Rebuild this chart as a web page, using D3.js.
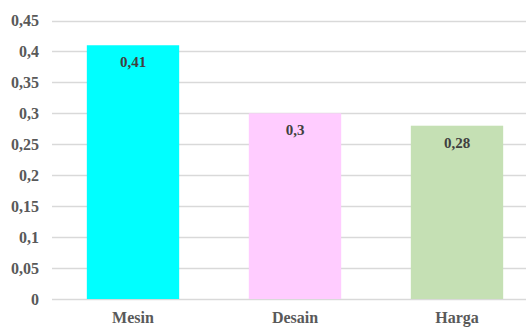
<!DOCTYPE html>
<html>
<head>
<meta charset="utf-8">
<script src="https://cdn.jsdelivr.net/npm/d3@7"></script>
<style>
  body { margin: 0; background: #fff; }
  svg { display: block; }
  svg text { font-family: "Liberation Serif", "Times New Roman", Times, serif; font-weight: bold; }
</style>
</head>
<body>
<div id="chart"></div>
<script>
const categories = ["Mesin", "Desain", "Harga"];
const values = [0.41, 0.3, 0.28];
const colors = ["#00ffff", "#ffccff", "#c5e0b4"];
const yTicks = [0, 0.05, 0.1, 0.15, 0.2, 0.25, 0.3, 0.35, 0.4, 0.45];

const width = 526, height = 327;
const fmt = d => String(d).replace(".", ",");

const x = d3.scaleBand()
    .domain(categories)
    .range([52, 538])
    .paddingInner(0.43)
    .paddingOuter(0.215);

const y = d3.scaleLinear()
    .domain([0, 0.45])
    .range([299, 20.5]);

const svg = d3.select("#chart")
    .append("svg")
    .attr("width", width)
    .attr("height", height);

// gridlines
svg.append("g")
    .selectAll("line")
    .data(yTicks)
    .join("line")
    .attr("x1", 52)
    .attr("x2", width)
    .attr("y1", d => Math.round(y(d)) + 0.5)
    .attr("y2", d => Math.round(y(d)) + 0.5)
    .attr("stroke", "#d9d9d9")
    .attr("stroke-width", 1.5);

// y tick labels
svg.append("g")
    .attr("font-size", 16)
    .attr("fill", "#595959")
    .attr("text-anchor", "end")
    .selectAll("text")
    .data(yTicks)
    .join("text")
    .attr("x", 39)
    .attr("y", d => y(d))
    .attr("dy", "0.35em")
    .text(d => fmt(d));

// bars
svg.append("g")
    .selectAll("rect")
    .data(values)
    .join("rect")
    .attr("x", (d, i) => x(categories[i]))
    .attr("width", x.bandwidth())
    .attr("y", d => y(d))
    .attr("height", d => y(0) - y(d))
    .attr("fill", (d, i) => colors[i]);

// value labels
svg.append("g")
    .attr("font-size", 15)
    .attr("fill", "#404040")
    .attr("text-anchor", "middle")
    .selectAll("text")
    .data(values)
    .join("text")
    .attr("x", (d, i) => x(categories[i]) + x.bandwidth() / 2)
    .attr("y", d => y(d) + 22)
    .text(d => fmt(d));

// category labels
svg.append("g")
    .attr("font-size", 16)
    .attr("fill", "#595959")
    .attr("text-anchor", "middle")
    .selectAll("text")
    .data(categories)
    .join("text")
    .attr("x", d => x(d) + x.bandwidth() / 2)
    .attr("y", 323)
    .text(d => d);
</script>
</body>
</html>
